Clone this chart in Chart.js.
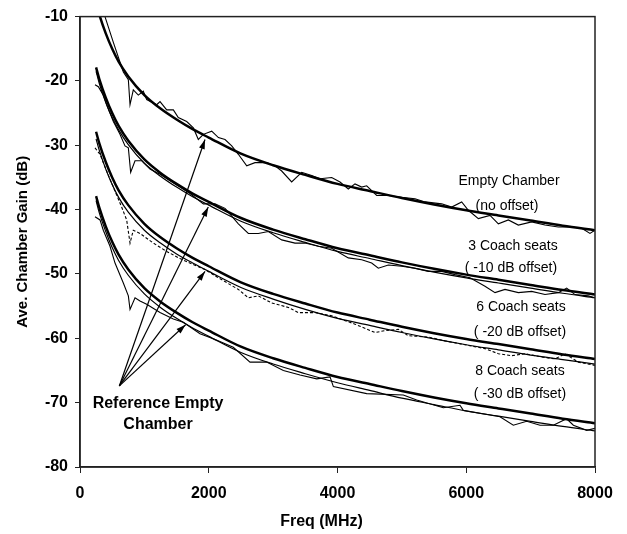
<!DOCTYPE html>
<html>
<head>
<meta charset="utf-8">
<script src="https://cdn.jsdelivr.net/npm/chart.js@4.4.0/dist/chart.umd.min.js"></script>
<style>
  html, body { margin: 0; padding: 0; background: #fff; }
  #chamber_chart { display: block; }
</style>
</head>
<body>
<canvas id="chamber_chart" width="627" height="534"></canvas>
<script>
// smooth reference curves (empty chamber, shifted for each seat group) + smoothed fits
const refFreq = [250, 300, 400, 500, 600, 750, 1000, 1250, 1500, 1750, 2000, 2500, 3000, 3500, 4000, 4500, 5000, 5500, 6000, 6500, 7000, 7500, 8000];
const refEmpty = [-7.9, -9.7, -12.6, -15.0, -17.0, -19.3, -22.2, -24.3, -26.0, -27.5, -28.8, -31.3, -33.1, -34.6, -36.0, -37.1, -38.2, -39.2, -40.1, -40.9, -41.7, -42.5, -43.2];
const ref3 = [-17.9, -19.7, -22.6, -25.0, -27.0, -29.3, -32.2, -34.3, -36.0, -37.5, -38.8, -41.3, -43.1, -44.6, -46.0, -47.1, -48.2, -49.2, -50.1, -50.9, -51.7, -52.5, -53.2];
const fit3 = [-18.5, -20.4, -23.3, -25.7, -27.6, -29.9, -32.8, -34.8, -36.5, -38.0, -39.3, -41.8, -43.6, -45.1, -46.5, -47.6, -48.7, -49.7, -50.6, -51.4, -52.2, -53.0, -53.7];
const ref6 = [-27.9, -29.7, -32.6, -35.0, -37.0, -39.3, -42.2, -44.3, -46.0, -47.5, -48.8, -51.3, -53.1, -54.6, -56.0, -57.1, -58.2, -59.2, -60.1, -60.9, -61.7, -62.5, -63.2];
const fit6 = [-29.0, -30.8, -33.7, -36.1, -38.1, -40.4, -43.2, -45.2, -46.9, -48.3, -49.6, -52.1, -53.9, -55.5, -56.9, -58.0, -59.1, -60.1, -61.0, -61.8, -62.6, -63.3, -64.0];
const ref8 = [-37.9, -39.7, -42.6, -45.0, -47.0, -49.3, -52.2, -54.3, -56.0, -57.5, -58.8, -61.3, -63.1, -64.6, -66.0, -67.1, -68.2, -69.2, -70.1, -70.9, -71.7, -72.5, -73.2];
const fit8 = [-38.6, -40.5, -43.4, -45.9, -47.9, -50.2, -53.1, -55.2, -56.9, -58.4, -59.7, -62.2, -64.0, -65.5, -66.9, -68.1, -69.3, -70.3, -71.3, -72.1, -72.9, -73.7, -74.4];

// measured curves (noisy)
const emptyFreq = [388, 518, 673, 751, 777, 828, 906, 983, 1036, 1191, 1243, 1347, 1450, 1527, 1657, 1761, 1838, 1916, 2046, 2150, 2253, 2357, 2460, 2590, 2718, 2900, 3029, 3133, 3288, 3444, 3599, 3728, 3910, 4039, 4168, 4272, 4376, 4453, 4609, 4790, 4997, 5204, 5359, 5618, 5774, 5929, 6033, 6188, 6369, 6499, 6654, 6809, 7017, 7223, 7430, 7638, 7794, 7922, 8000];
const emptyMeas = [-10, -14, -18.6, -19.8, -23.7, -21.4, -22.2, -21.6, -22.9, -23.7, -23.2, -24.5, -24.5, -25.7, -26.3, -27.3, -29.1, -28.3, -27.8, -28.8, -29.1, -30.1, -31.4, -33.2, -32.7, -32.7, -33.2, -34.0, -35.7, -34.2, -34.7, -35.2, -35.0, -35.7, -36.8, -36.0, -36.5, -36.3, -37.8, -37.8, -38.1, -38.3, -38.8, -39.1, -39.6, -38.8, -40.1, -41.4, -40.9, -42.2, -41.6, -42.4, -41.9, -42.4, -42.7, -42.7, -42.9, -43.7, -43.2];

const seats3Freq = [233, 285, 362, 414, 518, 621, 699, 751, 787, 855, 958, 1087, 1243, 1398, 1553, 1709, 1916, 2097, 2253, 2460, 2615, 2770, 2925, 3133, 3340, 3495, 3702, 3910, 4168, 4376, 4531, 4634, 4790, 4997, 5204, 5411, 5618, 5826, 6058, 6291, 6447, 6602, 6809, 7017, 7223, 7430, 7560, 7689, 7896, 8000];
const seats3Meas = [-20.6, -20.9, -22.2, -23.7, -26.3, -28.3, -30.1, -30.4, -34.2, -32.4, -32.4, -33.7, -34.5, -35.5, -36.5, -37.5, -39.1, -39.1, -39.8, -42.2, -43.7, -43.7, -43.4, -44.7, -45.2, -45.2, -45.7, -46.0, -47.5, -47.8, -48.3, -49.1, -48.6, -48.8, -49.1, -49.6, -49.6, -50.1, -50.6, -51.9, -52.9, -52.4, -52.9, -52.7, -53.2, -52.9, -52.2, -53.2, -53.4, -53.7];

const seats6Freq = [233, 311, 414, 518, 647, 725, 777, 828, 932, 1139, 1347, 1553, 1750, 1942, 2150, 2460, 2615, 2770, 2977, 3236, 3392, 3651, 3910, 4272, 4583, 4738, 4945, 5100, 5411, 5670, 5929, 6291, 6499, 6706, 6913, 7172, 7379, 7534, 7741, 8000];
const seats6Meas = [-30.4, -31.4, -34.0, -36.5, -39.6, -41.6, -45.2, -43.2, -43.7, -45.2, -46.5, -47.6, -48.5, -49.3, -50.6, -52.4, -53.7, -53.4, -54.5, -55.2, -56.0, -56.0, -56.5, -57.8, -59.1, -58.8, -58.6, -59.6, -59.8, -60.4, -60.9, -61.6, -62.4, -62.7, -62.4, -62.9, -63.2, -62.4, -63.7, -64.2];

const seats8Freq = [233, 311, 362, 466, 544, 673, 751, 777, 855, 932, 1036, 1243, 1450, 1605, 1864, 2100, 2381, 2641, 2900, 3159, 3418, 3677, 3884, 3936, 4453, 5022, 5230, 5644, 5903, 5955, 6524, 6731, 6939, 7146, 7353, 7560, 7664, 7871, 8000];
const seats8Meas = [-41.1, -41.6, -43.2, -45.7, -48.3, -51.4, -53.4, -55.5, -53.7, -54.2, -54.7, -56.0, -57.0, -57.5, -59.3, -60.2, -61.4, -63.7, -63.7, -65.0, -65.7, -66.3, -66.0, -67.5, -68.6, -68.8, -69.6, -70.8, -70.4, -71.2, -72.2, -73.5, -72.9, -73.5, -73.5, -72.5, -73.5, -74.3, -74.0];

// "Reference Empty Chamber" arrows: one start, four tips
const arrowFrom = [611, -67.4];
const arrowTipFreq = [1942, 1993, 1942, 1640];
const arrowTipDb = [-29.1, -39.6, -49.6, -57.9];

const xTicks = [0, 2000, 4000, 6000, 8000];
const yTicks = [-80, -70, -60, -50, -40, -30, -20, -10];

function toPoints(freqs, vals) {
    return freqs.map((f, i) => ({x: f, y: vals[i]}));
}

function smooth(vals, width) {
    return {
        data: toPoints(refFreq, vals),
        borderColor: '#000',
        borderWidth: width,
        cubicInterpolationMode: 'monotone',
        pointRadius: 0
    };
}

function noisy(freqs, vals, dash) {
    return {
        data: toPoints(freqs, vals),
        borderColor: '#000',
        borderWidth: 1.1,
        borderDash: dash || [],
        tension: 0,
        pointRadius: 0
    };
}

const FONT = '"Liberation Sans", Arial, sans-serif';

// text placed in data coords
const notes = [
    {text: 'Empty Chamber', x: 6664, y: -35.5},
    {text: '(no offset)', x: 6633, y: -39.4},
    {text: '3 Coach seats', x: 6726, y: -45.7},
    {text: '( -10 dB offset)', x: 6695, y: -49.1},
    {text: '6 Coach seats', x: 6850, y: -55.2},
    {text: '( -20 dB offset)', x: 6835, y: -59.1},
    {text: '8 Coach seats', x: 6835, y: -65.1},
    {text: '( -30 dB offset)', x: 6835, y: -68.6},
    {text: 'Reference Empty', x: 1212, y: -70.2, bold: true},
    {text: 'Chamber', x: 1212, y: -73.4, bold: true}
];

const extras = {
    id: 'extras',
    afterDatasetsDraw(chart) {
        const {ctx, chartArea: a, scales: {x, y}} = chart;
        ctx.save();
        ctx.strokeStyle = '#222';
        ctx.lineWidth = 1.5;
        ctx.strokeRect(a.left, a.top, a.right - a.left, a.bottom - a.top);

        ctx.strokeStyle = '#000';
        ctx.fillStyle = '#000';
        const x0 = x.getPixelForValue(arrowFrom[0]);
        const y0 = y.getPixelForValue(arrowFrom[1]);
        arrowTipFreq.forEach((f, i) => {
            const x1 = x.getPixelForValue(f);
            const y1 = y.getPixelForValue(arrowTipDb[i]);
            const ang = Math.atan2(y1 - y0, x1 - x0);
            ctx.lineWidth = 1.2;
            ctx.beginPath();
            ctx.moveTo(x0, y0);
            ctx.lineTo(x1, y1);
            ctx.stroke();
            ctx.beginPath();
            ctx.moveTo(x1, y1);
            ctx.lineTo(x1 - 10 * Math.cos(ang - 0.3), y1 - 10 * Math.sin(ang - 0.3));
            ctx.lineTo(x1 - 10 * Math.cos(ang + 0.3), y1 - 10 * Math.sin(ang + 0.3));
            ctx.closePath();
            ctx.fill();
        });

        ctx.textAlign = 'center';
        ctx.textBaseline = 'middle';
        notes.forEach(n => {
            ctx.font = n.bold ? 'bold 16px ' + FONT : '14px ' + FONT;
            ctx.fillText(n.text, x.getPixelForValue(n.x), y.getPixelForValue(n.y));
        });

        // x axis title sits a bit left of centre in the original
        ctx.font = 'bold 16px ' + FONT;
        ctx.fillText('Freq (MHz)', (a.left + a.right) / 2 - 16, 522);
        ctx.restore();
    }
};

const tickFont = {family: FONT, size: 16, weight: 'bold'};

new Chart(document.getElementById('chamber_chart'), {
    type: 'line',
    data: {
        datasets: [
            smooth(refEmpty, 2.5),
            smooth(ref3, 2.5),
            smooth(ref6, 2.5),
            smooth(ref8, 2.5),
            smooth(fit3, 1.2),
            smooth(fit6, 1.2),
            smooth(fit8, 1.2),
            noisy(emptyFreq, emptyMeas),
            noisy(seats3Freq, seats3Meas),
            noisy(seats6Freq, seats6Meas, [3, 2]),
            noisy(seats8Freq, seats8Meas)
        ]
    },
    options: {
        responsive: false,
        animation: false,
        layout: {padding: {top: 11, right: 32, left: 0, bottom: 0}},
        plugins: {legend: {display: false}, tooltip: {enabled: false}},
        scales: {
            x: {
                type: 'linear',
                min: 0,
                max: 8000,
                afterBuildTicks: s => { s.ticks = xTicks.map(v => ({value: v})); },
                afterFit: s => { s.height = 67; },
                ticks: {color: '#000', font: tickFont, padding: 11, maxRotation: 0, callback: v => String(v)},
                grid: {drawOnChartArea: false, tickLength: 6, color: '#222'},
                border: {color: '#222', width: 1.5}
            },
            y: {
                min: -80,
                max: -10,
                afterBuildTicks: s => { s.ticks = yTicks.map(v => ({value: v})); },
                afterFit: s => { s.width = 80; },
                ticks: {color: '#000', font: tickFont, padding: 7, callback: v => String(v)},
                grid: {drawOnChartArea: false, tickLength: 5, color: '#222'},
                border: {color: '#222', width: 1.5},
                title: {display: true, text: 'Ave. Chamber Gain (dB)', color: '#000', font: {family: FONT, size: 15, weight: 'bold'}, padding: {top: 14, bottom: 0}}
            }
        }
    },
    plugins: [extras]
});
</script>
</body>
</html>
